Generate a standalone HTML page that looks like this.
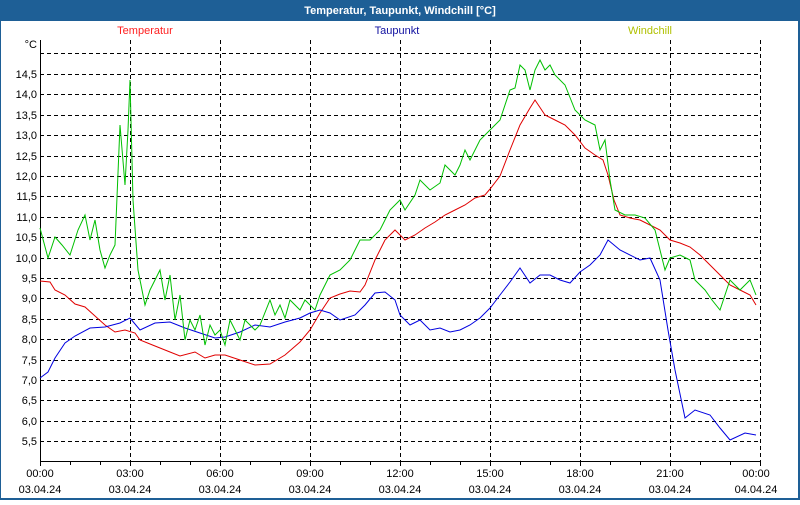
<!DOCTYPE html>
<html><head><meta charset="utf-8"><style>
body{margin:0;width:800px;height:500px;overflow:hidden;background:#fff;font-family:"Liberation Sans",sans-serif}
</style></head><body>
<svg width="800" height="500" xmlns="http://www.w3.org/2000/svg" font-family="Liberation Sans, sans-serif" font-size="11">
<rect x="0" y="0" width="800" height="500" fill="#1e5f96"/>
<rect x="1" y="21" width="797" height="477" fill="#fff"/>
<text x="400" y="14" fill="#fff" font-weight="bold" text-anchor="middle" font-size="11">Temperatur, Taupunkt, Windchill [°C]</text>
<text x="145" y="34" fill="#ff2020" text-anchor="middle">Temperatur</text>
<text x="397" y="34" fill="#1010a0" text-anchor="middle">Taupunkt</text>
<text x="650" y="34" fill="#b0c000" text-anchor="middle">Windchill</text>
<g stroke="#000" stroke-dasharray="4,3" stroke-width="1">
<line x1="40" x2="760" y1="53.5" y2="53.5"/><line x1="40" x2="760" y1="74.5" y2="74.5"/><line x1="40" x2="760" y1="94.5" y2="94.5"/><line x1="40" x2="760" y1="115.5" y2="115.5"/><line x1="40" x2="760" y1="135.5" y2="135.5"/><line x1="40" x2="760" y1="156.5" y2="156.5"/><line x1="40" x2="760" y1="176.5" y2="176.5"/><line x1="40" x2="760" y1="196.5" y2="196.5"/><line x1="40" x2="760" y1="217.5" y2="217.5"/><line x1="40" x2="760" y1="237.5" y2="237.5"/><line x1="40" x2="760" y1="258.5" y2="258.5"/><line x1="40" x2="760" y1="278.5" y2="278.5"/><line x1="40" x2="760" y1="298.5" y2="298.5"/><line x1="40" x2="760" y1="319.5" y2="319.5"/><line x1="40" x2="760" y1="339.5" y2="339.5"/><line x1="40" x2="760" y1="360.5" y2="360.5"/><line x1="40" x2="760" y1="380.5" y2="380.5"/><line x1="40" x2="760" y1="400.5" y2="400.5"/><line x1="40" x2="760" y1="421.5" y2="421.5"/><line x1="40" x2="760" y1="441.5" y2="441.5"/>
<line x1="130.5" x2="130.5" y1="40" y2="461"/><line x1="220.5" x2="220.5" y1="40" y2="461"/><line x1="310.5" x2="310.5" y1="40" y2="461"/><line x1="400.5" x2="400.5" y1="40" y2="461"/><line x1="490.5" x2="490.5" y1="40" y2="461"/><line x1="580.5" x2="580.5" y1="40" y2="461"/><line x1="670.5" x2="670.5" y1="40" y2="461"/><line x1="760.5" x2="760.5" y1="40" y2="461"/>
</g>
<g stroke="#000"><line x1="40.5" x2="40.5" y1="40" y2="466"/><line x1="40" x2="760" y1="461.5" y2="461.5"/>
<line x1="70.5" x2="70.5" y1="461" y2="465"/><line x1="100.5" x2="100.5" y1="461" y2="465"/><line x1="130.5" x2="130.5" y1="461" y2="466"/><line x1="160.5" x2="160.5" y1="461" y2="465"/><line x1="190.5" x2="190.5" y1="461" y2="465"/><line x1="220.5" x2="220.5" y1="461" y2="466"/><line x1="250.5" x2="250.5" y1="461" y2="465"/><line x1="280.5" x2="280.5" y1="461" y2="465"/><line x1="310.5" x2="310.5" y1="461" y2="466"/><line x1="340.5" x2="340.5" y1="461" y2="465"/><line x1="370.5" x2="370.5" y1="461" y2="465"/><line x1="400.5" x2="400.5" y1="461" y2="466"/><line x1="430.5" x2="430.5" y1="461" y2="465"/><line x1="460.5" x2="460.5" y1="461" y2="465"/><line x1="490.5" x2="490.5" y1="461" y2="466"/><line x1="520.5" x2="520.5" y1="461" y2="465"/><line x1="550.5" x2="550.5" y1="461" y2="465"/><line x1="580.5" x2="580.5" y1="461" y2="466"/><line x1="610.5" x2="610.5" y1="461" y2="465"/><line x1="640.5" x2="640.5" y1="461" y2="465"/><line x1="670.5" x2="670.5" y1="461" y2="466"/><line x1="700.5" x2="700.5" y1="461" y2="465"/><line x1="730.5" x2="730.5" y1="461" y2="465"/><line x1="760.5" x2="760.5" y1="461" y2="466"/></g>
<g text-anchor="end" fill="#000">
<text x="37" y="48">°C</text>
<text x="37" y="78">14,5</text><text x="37" y="98">14,0</text><text x="37" y="119">13,5</text><text x="37" y="139">13,0</text><text x="37" y="160">12,5</text><text x="37" y="180">12,0</text><text x="37" y="200">11,5</text><text x="37" y="221">11,0</text><text x="37" y="241">10,5</text><text x="37" y="262">10,0</text><text x="37" y="282">9,5</text><text x="37" y="302">9,0</text><text x="37" y="323">8,5</text><text x="37" y="343">8,0</text><text x="37" y="364">7,5</text><text x="37" y="384">7,0</text><text x="37" y="404">6,5</text><text x="37" y="425">6,0</text><text x="37" y="445">5,5</text>
</g>
<g text-anchor="middle" fill="#000">
<text x="40" y="477">00:00</text><text x="40" y="493">03.04.24</text>
<text x="130" y="477">03:00</text><text x="130" y="493">03.04.24</text>
<text x="220" y="477">06:00</text><text x="220" y="493">03.04.24</text>
<text x="310" y="477">09:00</text><text x="310" y="493">03.04.24</text>
<text x="400" y="477">12:00</text><text x="400" y="493">03.04.24</text>
<text x="490" y="477">15:00</text><text x="490" y="493">03.04.24</text>
<text x="580" y="477">18:00</text><text x="580" y="493">03.04.24</text>
<text x="670" y="477">21:00</text><text x="670" y="493">03.04.24</text>
<text x="756" y="477">00:00</text><text x="756" y="493">04.04.24</text>
</g>
<g fill="none" stroke-width="1">
<polyline stroke="#e00000" points="40,281 50,282 55,290 65,295 75,304 85,307 95,316 105,325 115,332 125,330 135,333 140,340 155,346 170,352 180,356 195,352 205,358 215,355 225,355 240,360 255,365 270,364 285,355 300,342 310,330 320,313 330,298 340,294 350,291 360,292 365,285 375,260 385,240 395,230 405,240 415,235 425,228 435,222 445,215 455,210 465,205 475,198 485,195 490,189 500,176 510,150 520,125 530,108 535,100 545,115 555,120 565,125 575,135 585,148 595,155 603,160 608,175 614,200 620,215 630,218 640,220 650,225 660,230 670,240 680,243 690,247 700,255 710,265 720,275 730,285 740,290 750,295 756,305"/>
<polyline stroke="#0000e0" points="40,378 48,372 55,358 65,343 75,336 90,328 105,327 120,323 130,318 140,330 155,323 170,322 185,328 200,333 215,338 225,337 240,332 255,325 270,327 285,322 300,318 310,313 320,310 330,313 340,320 355,315 365,305 375,293 385,292 395,300 400,315 410,325 420,320 430,330 440,328 450,332 460,330 470,325 480,318 490,308 500,295 510,282 520,268 530,283 540,275 550,275 560,280 570,283 580,272 590,265 600,255 608,240 620,250 640,260 650,258 660,280 668,330 675,370 685,418 695,410 710,415 720,428 730,440 745,433 756,435"/>
<polyline stroke="#00c000" points="40,228 48,258 55,237 62,245 70,255 78,230 85,215 90,240 95,220 100,250 105,268 110,255 115,245 120,125 125,185 128,130 130,80 133,200 138,270 145,305 150,290 160,270 165,300 170,275 175,320 180,295 185,340 190,320 195,330 200,315 205,345 210,325 215,335 220,330 225,345 230,320 235,330 240,340 245,320 255,330 260,325 270,300 275,315 280,305 285,318 290,300 300,310 305,300 315,310 320,295 330,275 340,270 350,260 360,240 370,240 380,230 390,210 400,200 405,210 415,195 420,180 430,190 440,183 445,165 455,175 460,165 465,150 470,160 480,140 490,130 500,120 510,90 515,88 520,65 525,70 530,90 535,70 540,60 545,70 550,65 555,75 565,85 575,110 585,120 595,125 600,150 605,140 610,180 615,210 625,215 635,215 645,218 655,230 665,270 670,258 680,255 690,260 695,280 705,290 712,300 720,310 730,280 740,290 750,280 756,295"/>
</g>
</svg>
</body></html>
